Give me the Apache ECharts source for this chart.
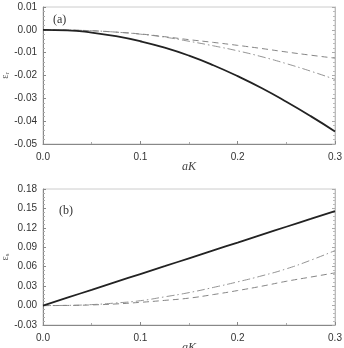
<!DOCTYPE html>
<html>
<head>
<meta charset="utf-8">
<script src="https://cdn.jsdelivr.net/npm/echarts@6/dist/echarts.min.js"></script>
<style>
  html, body { margin: 0; padding: 0; background: #fff; }
  #chart { width: 344px; height: 348px; }
</style>
</head>
<body>
<div id="chart"></div>
<script>
const aK = [0, 0.025, 0.05, 0.075, 0.1, 0.125, 0.15, 0.175, 0.2, 0.225, 0.25, 0.275, 0.3];

// panel (a)
const aSolid = [0, -0.0002, -0.0012, -0.0028, -0.0050, -0.0078, -0.0113, -0.0155, -0.0203, -0.0256, -0.0315, -0.0378, -0.0445];
const aDash = [0, -0.0001, -0.0004, -0.0010, -0.0018, -0.0030, -0.0043, -0.0055, -0.0068, -0.0082, -0.0097, -0.0111, -0.0124];
const aDashDot = [0, -0.0001, -0.0004, -0.0010, -0.0019, -0.0032, -0.0050, -0.0070, -0.0092, -0.0118, -0.0148, -0.0181, -0.0217];

// panel (b)
const bSolid = [0, 0.0122, 0.0243, 0.0365, 0.0487, 0.0608, 0.0730, 0.0852, 0.0973, 0.1095, 0.1217, 0.1338, 0.1460];
const bDashDot = [0, 0.0003, 0.0015, 0.0040, 0.0075, 0.0135, 0.0200, 0.0280, 0.0366, 0.0460, 0.0567, 0.0700, 0.0849];
const bDash = [0, 0.0002, 0.0010, 0.0025, 0.0050, 0.0080, 0.0115, 0.0170, 0.0232, 0.0300, 0.0375, 0.0440, 0.0505];

const pairs = (ys) => aK.map((x, i) => [x, ys[i]]);

const tickFont = { fontFamily: 'Liberation Sans, Arial, sans-serif', fontSize: 10, color: '#333' };
const axisColor = '#888';
const subRich = { sub: { fontSize: 7, fontFamily: 'Liberation Serif, serif', color: '#555', padding: [5, 0, 0, 0] } };

const xAxisCfg = (gridIndex) => ({
  type: 'value', gridIndex, min: 0, max: 0.3, interval: 0.1,
  name: 'aK', nameLocation: 'middle', nameGap: 17, nameMoveOverlap: false,
  nameTextStyle: { fontFamily: 'Liberation Serif, serif', fontStyle: 'italic', fontSize: 12, color: '#444' },
  axisLine: { onZero: false, lineStyle: { color: axisColor, width: 1 } },
  axisTick: { inside: true, length: 3, lineStyle: { color: axisColor } },
  minorTick: { show: true, splitNumber: 2, length: 2, lineStyle: { color: '#aaa' } },
  axisLabel: Object.assign({ margin: 8, formatter: v => v.toFixed(1) }, tickFont),
  splitLine: { show: false }
});

const yAxisCfg = (gridIndex, min, max, interval, name) => ({
  type: 'value', gridIndex, min, max, interval,
  name, nameLocation: 'middle', nameGap: 32, nameRotate: 90, nameMoveOverlap: false,
  nameTextStyle: { fontFamily: 'Liberation Serif, serif', fontSize: 10, color: '#555', rich: subRich },
  axisLine: { onZero: false, lineStyle: { color: axisColor, width: 1 } },
  axisTick: { inside: true, length: 3, lineStyle: { color: axisColor } },
  minorTick: { show: true, splitNumber: 5, length: 2, lineStyle: { color: '#aaa' } },
  axisLabel: Object.assign({ margin: 6, formatter: v => v.toFixed(2) }, tickFont),
  splitLine: { show: false }
});

const yRightCfg = (gridIndex, min, max, interval) => ({
  type: 'value', gridIndex, min, max, interval, position: 'right',
  axisLine: { show: true, onZero: false, lineStyle: { color: '#bbb', width: 1 } },
  axisTick: { inside: true, length: 3, lineStyle: { color: '#aaa' } },
  minorTick: { show: true, splitNumber: 5, length: 2, lineStyle: { color: '#bbb' } },
  axisLabel: { show: false },
  splitLine: { show: false }
});

const line = (xi, yi, data, style) => ({
  type: 'line', xAxisIndex: xi, yAxisIndex: yi, data: pairs(data),
  showSymbol: false, smooth: true, lineStyle: style, silent: true
});

const solid = { color: '#222', width: 1.8, type: 'solid' };
const dashed = { color: '#777', width: 0.9, type: [6, 4] };
const dashDot = { color: '#888', width: 0.9, type: [8, 3, 1.5, 3] };

const chart = echarts.init(document.getElementById('chart'));
chart.setOption({
  animation: false,
  backgroundColor: '#fff',
  grid: [
    { left: 43, right: 9, top: 7, height: 137, containLabel: false, outerBoundsMode: 'none', show: true, borderColor: '#ccc', borderWidth: 1 },
    { left: 43, right: 9, top: 189, height: 136, containLabel: false, outerBoundsMode: 'none', show: true, borderColor: '#ccc', borderWidth: 1 }
  ],
  xAxis: [xAxisCfg(0), xAxisCfg(1)],
  yAxis: [
    yAxisCfg(0, -0.05, 0.01, 0.01, 'ε{sub|r}'),
    yAxisCfg(1, -0.03, 0.18, 0.03, 'ε{sub|s}'),
    yRightCfg(0, -0.05, 0.01, 0.01),
    yRightCfg(1, -0.03, 0.18, 0.03)
  ],
  graphic: [
    { type: 'text', left: 53, top: 14, style: { text: '(a)', font: '12px Liberation Serif, serif', fill: '#333' } },
    { type: 'text', left: 59, top: 205, style: { text: '(b)', font: '12px Liberation Serif, serif', fill: '#333' } }
  ],
  series: [
    line(0, 0, aDash, dashed),
    line(0, 0, aDashDot, dashDot),
    line(0, 0, aSolid, solid),
    line(1, 1, bDash, dashed),
    line(1, 1, bDashDot, dashDot),
    line(1, 1, bSolid, solid)
  ]
});
</script>
</body>
</html>
